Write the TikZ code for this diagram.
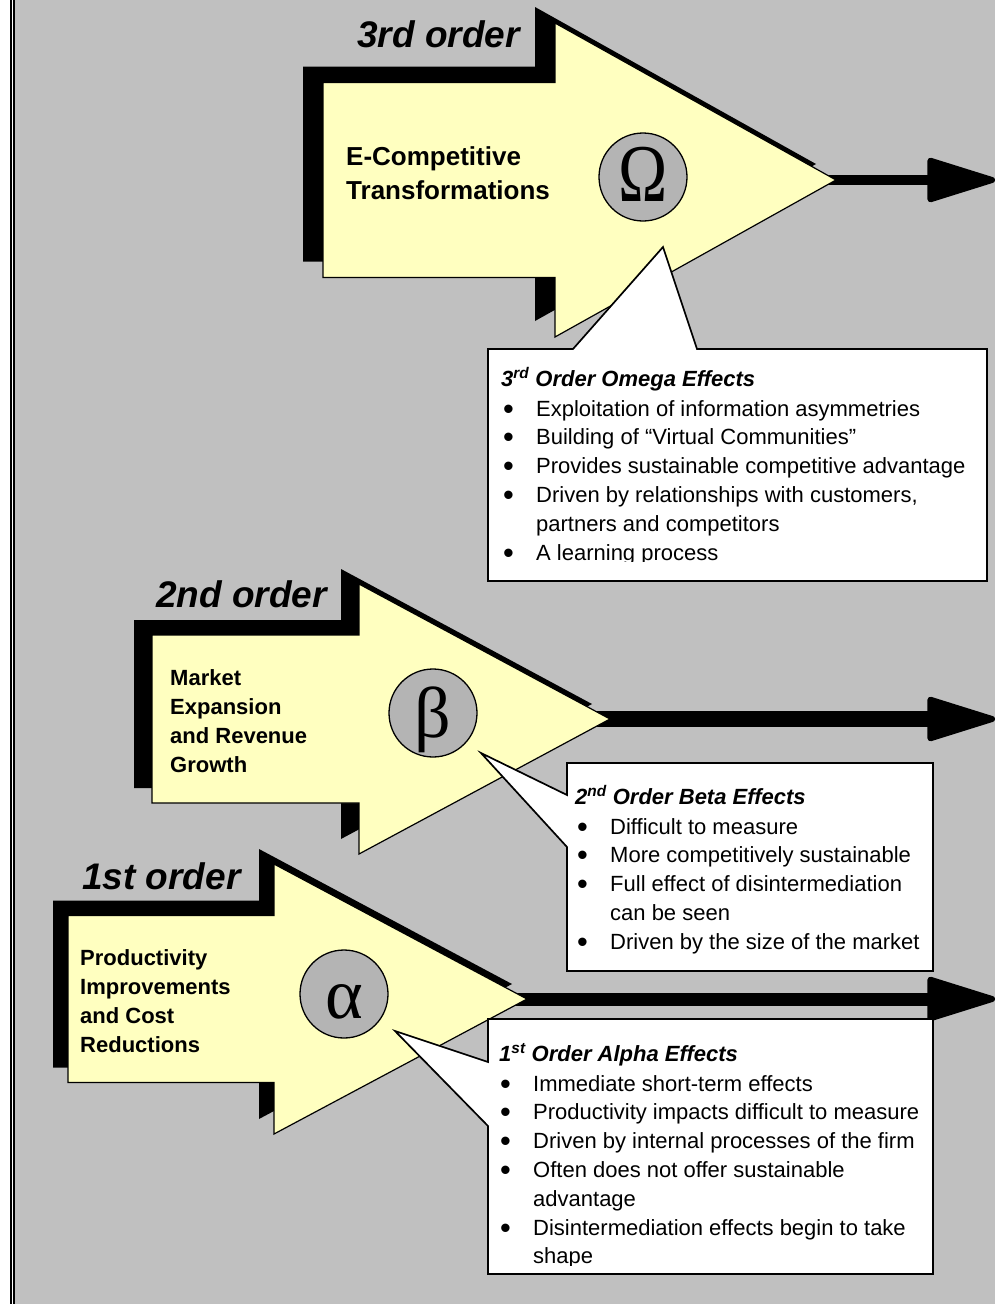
\documentclass[tikz,border=0pt]{standalone}
\usepackage{graphicx}
\usepackage{fontspec}
\setmainfont{Liberation Sans}
\newfontfamily\greekserif{Liberation Serif}
\usetikzlibrary{arrows.meta}

\definecolor{panelgray}{HTML}{C0C0C0}
\definecolor{paleyellow}{HTML}{FFFFC0}
\definecolor{discgray}{HTML}{B4B4B4}

% bullet column and continuation indent for the effect lists
\newcommand\bul{\makebox[33pt][l]{\raisebox{-3pt}{\scalebox{1.4}{\textbullet}}}}
\newcommand\hang{\hspace*{33pt}}

% block arrow with an offset black shadow:
% #1 left x, #2 centre y, #3 shaft half-height, #4 head base x,
% #5 head half-height, #6 tip x, #7 shadow shift
\newcommand\blockarrow[7]{%
  \fill[arrowshadow, shift={#7}] (#1,#2-#3) -- (#4,#2-#3) -- (#4,#2-#5) -- (#6,#2)
     -- (#4,#2+#5) -- (#4,#2+#3) -- (#1,#2+#3) -- cycle;
  \filldraw[arrowbody] (#1,#2-#3) -- (#4,#2-#3) -- (#4,#2-#5) -- (#6,#2)
     -- (#4,#2+#5) -- (#4,#2+#3) -- (#1,#2+#3) -- cycle;
}

\tikzset{
  arrowbody/.style={fill=paleyellow, draw=black, line width=1.2pt, line join=miter},
  arrowshadow/.style={fill=black},
  disc/.style={circle, draw=black, line width=1.3pt, fill=discgray, minimum size=88pt,
    inner sep=0pt, text height=48pt, text depth=0pt,
    font=\greekserif\fontsize{72}{72}\selectfont},
  ordertag/.style={anchor=base west, inner sep=0pt,
    font=\bfseries\itshape\fontsize{37}{37}\selectfont},
  arrowtext/.style={anchor=base west, inner sep=0pt, font=\bfseries},
  callout/.style={fill=white, draw=black, line width=1.7pt, line join=miter},
  calltitle/.style={anchor=base west, inner sep=0pt,
    font=\bfseries\itshape\fontsize{22}{28.8}\selectfont},
  callitems/.style={anchor=base west, inner sep=0pt, font=\fontsize{22}{28.8}\selectfont},
  flow/.style={draw=black, -{Triangle[length=75pt,width=45pt,round,line width=6pt]},
    shorten <=-40pt},
}

\begin{document}
\begin{tikzpicture}[x=1pt,y=-1pt]
\useasboundingbox (0,0) rectangle (995,1304);

% panel with double rule on the left
\fill[white] (0,0) rectangle (995,1304);
\fill[panelgray] (15,0) rectangle (995,1304);
\fill[black] (10,0) rectangle (12,1304);
\fill[black] (13,0) rectangle (15,1304);

% arrow tips and right-hand ends of the outgoing connectors
\coordinate (tip3) at (836,180);
\coordinate (end3) at (995,180);
\coordinate (tip2) at (610,719);
\coordinate (end2) at (995,719);
\coordinate (tip1) at (527,999);
\coordinate (end1) at (995,999);

\draw[flow, line width=10pt] (tip3) -- (end3);
\draw[flow, line width=16pt] (tip2) -- (end2);
\draw[flow, line width=13pt] (tip1) -- (end1);

% block arrows
\blockarrow{323}{180}{97.5}{555}{157}{836}{(-20,-16)}
\blockarrow{152}{719}{84}{359}{135}{610}{(-18,-15)}
\blockarrow{68}{999}{83.5}{274}{135}{527}{(-15,-15)}

% order captions
\node[ordertag] (order3) at (357,47) {3rd order};
\node[ordertag] (order2) at (156,607) {2nd order};
\node[ordertag] (order1) at (82,889) {1st order};

% arrow labels
\node[arrowtext] (ecomp) at (346,165)
  {\fontsize{26}{34}\selectfont\parbox[t]{260pt}{E-Competitive\\Transformations}};
\node[arrowtext] (market) at (170,685)
  {\fontsize{22}{29}\selectfont\parbox[t]{200pt}{Market\\Expansion\\and Revenue\\Growth}};
\node[arrowtext] (product) at (80,965)
  {\fontsize{22}{29}\selectfont\parbox[t]{200pt}{Productivity\\Improvements\\and Cost\\Reductions}};

% greek discs
\node[disc] (omega) at (643,177) {\scalebox{0.92}[1.14]{Ω}};
\node[disc] (beta) at (433,713) {β};
\node[disc] (alpha) at (344,994) {α};

% third-order callout
\filldraw[callout] (488,349) -- (573,349) -- (663,247) -- (697,349) -- (987,349)
  -- (987,581) -- (488,581) -- cycle;
\begin{scope}
  \clip (490,351) rectangle (985,561);
  \node[calltitle] (title3) at (501,386) {3\textsuperscript{rd} Order Omega Effects};
  \node[callitems] (list3) at (503,416) {\parbox[t]{470pt}{%
    \bul Exploitation of information asymmetries\\
    \bul Building of “Virtual Communities”\\
    \bul Provides sustainable competitive advantage\\
    \bul Driven by relationships with customers,\\
    \hang partners and competitors\\
    \bul A learning process}};
\end{scope}

% second-order callout
\filldraw[callout] (567,763) -- (933,763) -- (933,971) -- (567,971) -- (567,847)
  -- (481,753) -- (567,795) -- cycle;
\node[calltitle] (title2) at (575,804) {2\textsuperscript{nd} Order Beta Effects};
\node[callitems] (list2) at (577,834) {\parbox[t]{350pt}{%
  \bul Difficult to measure\\
  \bul More competitively sustainable\\
  \bul Full effect of disintermediation\\
  \hang can be seen\\
  \bul Driven by the size of the market}};

% first-order callout
\filldraw[callout] (488,1019) -- (933,1019) -- (933,1274) -- (488,1274) -- (488,1126)
  -- (395,1031) -- (488,1062) -- cycle;
\begin{scope}
  \clip (490,1021) rectangle (931,1265);
  \node[calltitle] (title1) at (499,1061) {1\textsuperscript{st} Order Alpha Effects};
  \node[callitems] (list1) at (500,1091) {\parbox[t]{440pt}{%
    \bul Immediate short-term effects\\
    \bul Productivity impacts difficult to measure\\
    \bul Driven by internal processes of the firm\\
    \bul Often does not offer sustainable\\
    \hang advantage\\
    \bul Disintermediation effects begin to take\\
    \hang shape}};
\end{scope}
\end{tikzpicture}
\end{document}
